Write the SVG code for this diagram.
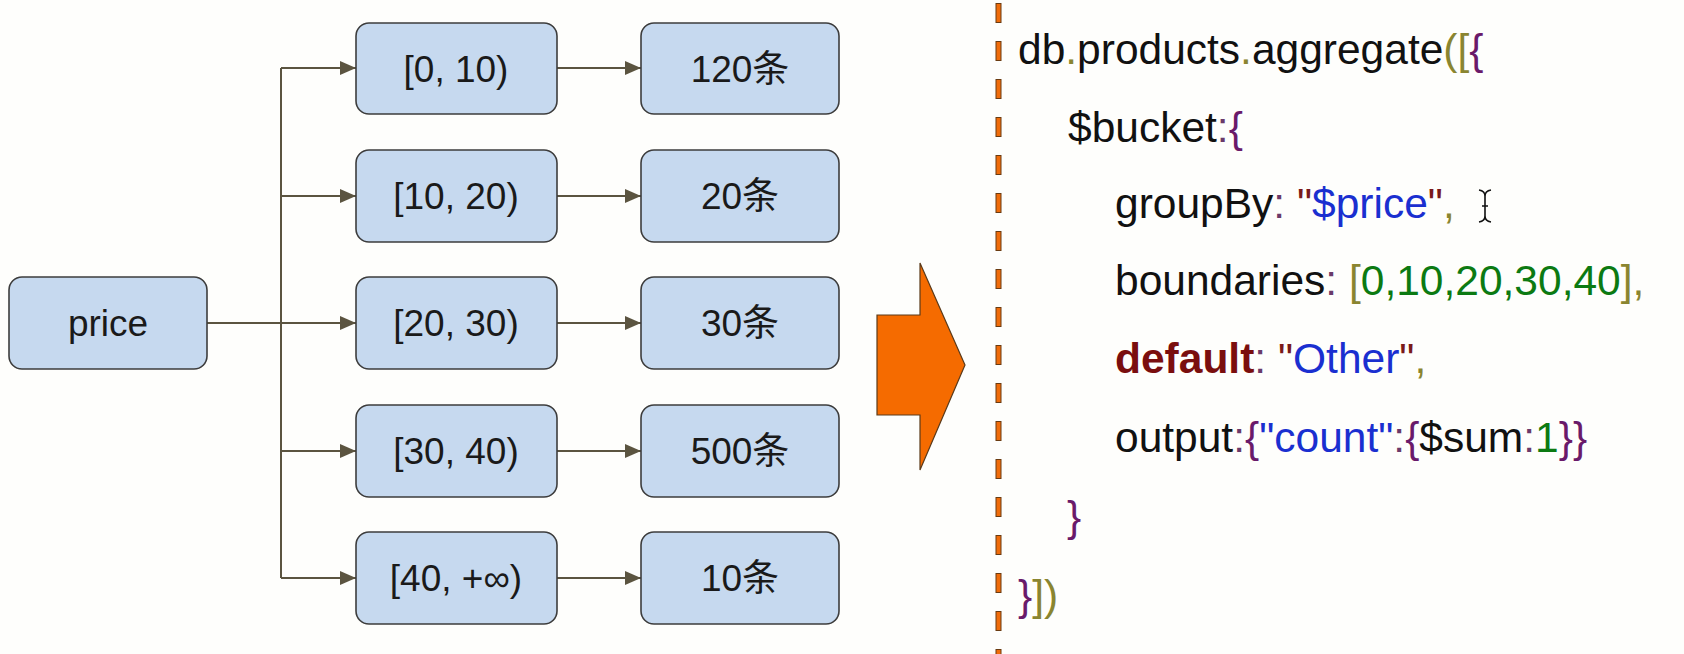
<svg xmlns="http://www.w3.org/2000/svg" width="1684" height="654" viewBox="0 0 1684 654">
<defs>
<marker id="ah" markerWidth="16" markerHeight="14" refX="16" refY="7" orient="auto" markerUnits="userSpaceOnUse">
<path d="M0,0 L16,7 L0,14 Z" fill="#5b5440"/>
</marker>
<style>
.box{fill:#c6d9ef;stroke:#3d3d3d;stroke-width:1.6}
.lbl{font-family:"Liberation Sans",Arial,"Noto Sans CJK SC",sans-serif;font-size:37px;fill:#1a1a1a;text-anchor:middle}
.con{fill:none;stroke:#5b5440;stroke-width:2}
.code{font-family:"Liberation Sans",Arial,sans-serif;font-size:42.5px;fill:#111}
.ol{fill:#8a8530}
.pu{fill:#6a1a6a}
.bl{fill:#1a2fd0}
.gr{fill:#0c7a12}
.qt{fill:#7a1a1a}
.kw{fill:#7a0e0e;font-weight:bold}
.cl{fill:#6a3a6a}
</style>
</defs>
<rect width="1684" height="654" fill="#fefefc"/>

<g id="connectors">
<path class="con" d="M207,323 H281"/>
<path class="con" d="M281,68 V578"/>
<path class="con" d="M281,68 H356" marker-end="url(#ah)"/>
<path class="con" d="M281,196 H356" marker-end="url(#ah)"/>
<path class="con" d="M281,323 H356" marker-end="url(#ah)"/>
<path class="con" d="M281,451 H356" marker-end="url(#ah)"/>
<path class="con" d="M281,578 H356" marker-end="url(#ah)"/>
<path class="con" d="M557,68 H641" marker-end="url(#ah)"/>
<path class="con" d="M557,196 H641" marker-end="url(#ah)"/>
<path class="con" d="M557,323 H641" marker-end="url(#ah)"/>
<path class="con" d="M557,451 H641" marker-end="url(#ah)"/>
<path class="con" d="M557,578 H641" marker-end="url(#ah)"/>
</g>

<g id="price"><rect class="box" x="9" y="277" width="198" height="92" rx="13"/><text class="lbl" x="108" y="336">price</text></g>

<g id="r0"><rect class="box" x="356" y="23" width="201" height="91" rx="13"/><text class="lbl" x="456" y="82">[0, 10)</text></g>
<g id="r1"><rect class="box" x="356" y="150" width="201" height="92" rx="13"/><text class="lbl" x="456" y="209">[10, 20)</text></g>
<g id="r2"><rect class="box" x="356" y="277" width="201" height="92" rx="13"/><text class="lbl" x="456" y="336">[20, 30)</text></g>
<g id="r3"><rect class="box" x="356" y="405" width="201" height="92" rx="13"/><text class="lbl" x="456" y="464">[30, 40)</text></g>
<g id="r4"><rect class="box" x="356" y="532" width="201" height="92" rx="13"/><text class="lbl" x="456" y="591">[40, +∞)</text></g>

<g id="c0"><rect class="box" x="641" y="23" width="198" height="91" rx="13"/><text class="lbl" x="740" y="82">120条</text></g>
<g id="c1"><rect class="box" x="641" y="150" width="198" height="92" rx="13"/><text class="lbl" x="740" y="209">20条</text></g>
<g id="c2"><rect class="box" x="641" y="277" width="198" height="92" rx="13"/><text class="lbl" x="740" y="336">30条</text></g>
<g id="c3"><rect class="box" x="641" y="405" width="198" height="92" rx="13"/><text class="lbl" x="740" y="464">500条</text></g>
<g id="c4"><rect class="box" x="641" y="532" width="198" height="92" rx="13"/><text class="lbl" x="740" y="591">10条</text></g>

<g id="big-arrow">
<polygon points="877,315 920,315 920,263 965,365 920,470 920,415 877,415" fill="#f56b00" stroke="#5a3a1a" stroke-width="1.2"/>
</g>

<g id="divider">
<line x1="998.5" y1="3" x2="998.5" y2="654" stroke="#6a3a10" stroke-width="6" stroke-dasharray="20 18"/>
<line x1="998.5" y1="4" x2="998.5" y2="654" stroke="#f06c0a" stroke-width="4" stroke-dasharray="18 20"/>
</g>

<g id="code">
<text class="code" x="1018" y="64">db<tspan class="ol">.</tspan>products<tspan class="ol">.</tspan>aggregate<tspan class="ol">([</tspan><tspan class="pu">{</tspan></text>
<text class="code" x="1068" y="142">$bucket<tspan class="cl">:</tspan><tspan class="pu">{</tspan></text>
<text class="code" x="1115" y="218">groupBy<tspan class="cl">:</tspan> <tspan class="qt">"</tspan><tspan class="bl">$price</tspan><tspan class="qt">"</tspan><tspan class="ol">,</tspan></text>
<text class="code" x="1115" y="295">boundaries<tspan class="cl">:</tspan> <tspan class="ol">[</tspan><tspan class="gr">0,10,20,30,40</tspan><tspan class="ol">],</tspan></text>
<text class="code" x="1115" y="373"><tspan class="kw">default</tspan><tspan class="cl">:</tspan> <tspan class="qt">"</tspan><tspan class="bl">Other</tspan><tspan class="qt">"</tspan><tspan class="ol">,</tspan></text>
<text class="code" x="1115" y="452">output<tspan class="cl">:</tspan><tspan class="pu">{</tspan><tspan class="bl">"count"</tspan><tspan class="cl">:</tspan><tspan class="pu">{</tspan>$sum<tspan class="cl">:</tspan><tspan class="gr">1</tspan><tspan class="pu">}}</tspan></text>
<text class="code" x="1067" y="531"><tspan class="pu">}</tspan></text>
<text class="code" x="1018" y="610"><tspan class="pu">}</tspan><tspan class="ol">])</tspan></text>
</g>

<g id="cursor">
<path d="M1479,190 Q1485,191 1485,196 Q1485,191 1491,190 M1485,196 V216 M1482,206 H1488 M1479,222 Q1485,221 1485,216 Q1485,221 1491,222" fill="none" stroke="#111" stroke-width="1.6"/>
</g>
</svg>
